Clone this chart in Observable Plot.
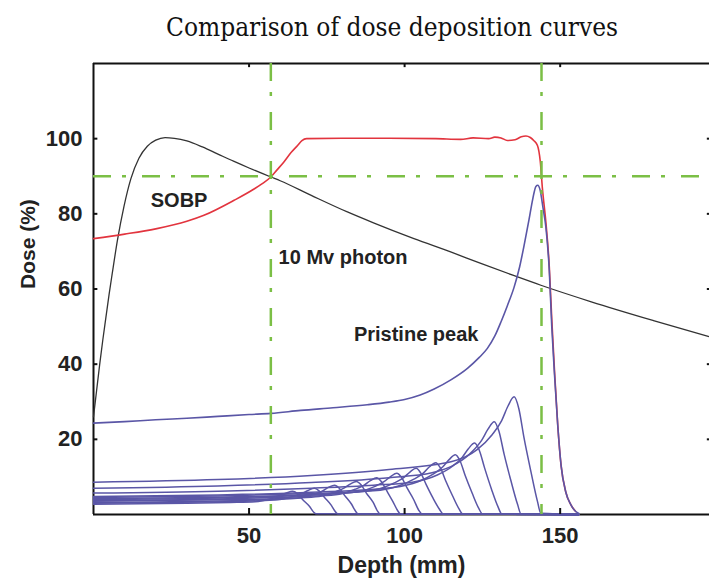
<!DOCTYPE html>
<html>
<head>
<meta charset="utf-8">
<script src="https://cdn.jsdelivr.net/npm/d3@7"></script>
<script src="https://cdn.jsdelivr.net/npm/@observablehq/plot@0.6"></script>
<style>
  html, body { margin: 0; padding: 0; background: #fff; }
  #title { height: 50px; line-height: 54px; padding-left: 75px; text-align: center;
    font-family: "DejaVu Serif Condensed", "DejaVu Serif", serif; font-stretch: condensed;
    font-size: 26px; color: #111; white-space: nowrap; overflow: visible; }
  #chart svg { display: block; }
</style>
</head>
<body>
<div id="title">Comparison of dose deposition curves</div>
<div id="chart"></div>
<script>
// ---- Data ----
const depthTicks = [50, 100, 150];
const doseTicks = [20, 40, 60, 80, 100];
const refDepths = [57, 144];     // green dash-dot verticals (mm)
const refDoses = [90];           // green dash-dot horizontal (%)

// 10 MV photon depth-dose curve [depth mm, dose %]
const photon = [[0,26],[1,33],[2,40],[3,46.5],[4,52.5],[5,58.5],[6,64],[7.7,73],[9.8,82],[12,89.3],[14.6,94.8],[17.3,98],[20,99.6],[23,100.3],[26,100.1],[30,99.4],[35,97.8],[40,95.9],[45,94],[50,92.2],[57,89.8],[60,88.8],[70,84.9],[81.6,80.5],[90,77.6],[103,73.4],[115,69.8],[124.5,66.8],[135,63.6],[143.8,61],[160,56.6],[180,51.6],[198,47.3]];

// Spread-out Bragg peak
const sobp = [[0,73.4],[10,74.6],[20,76],[30,78],[35.5,79.6],[45.2,83.6],[51.6,86.6],[54,87.9],[57,89.8],[59,91.7],[61.2,93.8],[63.5,96.3],[65.6,98.2],[67,99.5],[68.5,100],[80,100.1],[95,100.1],[110,100],[118,99.8],[122,100.2],[127,100],[129,100.4],[131,100.2],[133,99.5],[135.5,99.7],[137.5,100.5],[139,100.7],[140.4,100.3],[141.5,99.5],[142.7,98.2],[143.6,94],[144.3,86.7],[145.4,77.8],[146.5,66],[147.3,52],[148.2,38],[149.2,24],[150.3,13],[151.8,6],[153.5,2.5],[155,0.8]];

// Pristine Bragg peak
const pristine = [[0,24.3],[10,24.7],[20,25.2],[30,25.6],[40,26.1],[50,26.6],[57,26.9],[66.6,27.7],[77,28.4],[88,29.2],[95,29.9],[100,30.6],[105,31.8],[109.5,33.4],[115,35.9],[120.2,38.9],[124,41.8],[126.6,44.2],[129,47.5],[131,51.3],[133,55.5],[135.2,60.5],[137,66],[138.5,72],[140,78.5],[141.2,84],[142.2,87.3],[142.8,87.6],[143.5,86.5],[144.5,81.5],[145.4,76.5],[146.5,65],[147.3,50],[148.2,37],[149.2,24],[150.3,13],[151.8,6],[153.5,2.5],[155,0.8],[156,0.3]];

// Weighted (modulated) Bragg peaks that build the SOBP
const weighted1 = [[0,8.6],[40,9.3],[70,10.4],[95,12],[115.2,14.1],[123.2,17.2],[128.2,21.3],[131.2,25],[133.2,28.8],[135.2,31.3],[136.7,28.2],[138.4,20.3],[140.6,11.4],[142.7,3.5],[143.8,0.3],[156,0]];
const weighted2 = [[0,7],[40,7.6],[70,8.5],[95,9.8],[108.8,11.1],[116.8,13.6],[121.8,16.8],[124.8,19.8],[126.8,22.7],[128.8,24.7],[130.3,22.2],[132,16],[134.2,8.9],[136.3,2.7],[137.4,0.2],[156,0]];
const weighted3 = [[0,5.7],[40,6.2],[70,7],[90,7.8],[102.5,8.6],[110.5,10.5],[115.5,12.9],[118.5,15.2],[120.5,17.5],[122.5,19],[124,17.1],[125.7,12.4],[127.9,6.8],[130,2.1],[131.2,0.2],[156,0]];
const weighted4 = [[0,4.8],[40,5.2],[70,5.9],[96.3,7.2],[104.3,8.7],[109.3,10.8],[112.3,12.7],[114.3,14.6],[116.3,15.9],[117.8,14.3],[119.5,10.3],[121.7,5.7],[123.8,1.7],[125,0.2],[156,0]];
const weighted5 = [[0,4.5],[40,4.9],[70,5.6],[90,6.3],[98,7.6],[103,9.4],[106,11],[108,12.7],[110,13.8],[111.5,12.4],[113.2,9],[115.4,5],[117.5,1.5],[118.6,0.2],[156,0]];
const weighted6 = [[0,4.2],[40,4.6],[70,5.3],[83.7,5.9],[91.7,6.8],[96.7,8.4],[99.7,9.8],[101.7,11.3],[103.7,12.3],[105.2,11],[106.9,8],[109.1,4.4],[111.2,1.4],[112.3,0.2],[156,0]];
const weighted7 = [[0,4],[40,4.4],[65,5],[77.5,5.5],[85.5,6.1],[90.5,7.5],[93.5,8.8],[95.5,10.1],[97.5,11],[99,9.9],[100.7,7.2],[102.9,4],[104.5,1.2],[105.5,0.2],[156,0]];
const weighted8 = [[0,3.7],[40,4.1],[60,4.6],[71,4.9],[79,5.4],[84,6.7],[87,7.8],[89,9],[91,9.8],[92.5,8.8],[94.2,6.4],[96.2,3.5],[97.8,1],[98.6,0.2],[156,0]];
const weighted9 = [[0,3.5],[40,3.9],[64.5,4.4],[72.5,4.8],[77.5,6],[80.5,7],[82.5,8.1],[84.5,8.8],[86,7.9],[87.7,5.7],[89.9,3.2],[91.3,0.9],[92,0.2],[156,0]];
const weighted10 = [[0,3.2],[35,3.5],[57.5,4],[65.5,4.3],[70.5,5.3],[73.5,6.2],[75.5,7.2],[77.5,7.8],[79,7],[80.7,5.1],[82.9,2.8],[84.3,0.8],[85,0.2],[156,0]];
const weighted11 = [[0,3],[35,3.3],[51,3.6],[59,3.9],[64,4.8],[67,5.6],[69,6.4],[71,7],[72.5,6.3],[74.2,4.6],[76.4,2.5],[77.8,0.7],[78.5,0.2],[156,0]];
const weighted12 = [[0,2.7],[30,3],[44,3.2],[52,3.4],[57,4.2],[60,5],[62,5.7],[64,6.2],[65.5,5.6],[67.2,4],[69.4,2.2],[70.8,0.6],[71.5,0.2],[156,0]];

const annotations = [
  {text: "SOBP", depth: 18.4, dose: 83.4},
  {text: "10 Mv photon", depth: 59.5, dose: 68.3},
  {text: "Pristine peak", depth: 83.7, dose: 47.8}
];

// ---- Build tables ----
const toRows = (id, pts) => pts.map(([x, y]) => ({id, x, y}));
const weighted = [weighted1, weighted2, weighted3, weighted4, weighted5, weighted6,
  weighted7, weighted8, weighted9, weighted10, weighted11, weighted12]
  .flatMap((pts, i) => toRows("w" + i, pts));

const blue = "#5a56a6", red = "#e2343e", green = "#7bbf45", ink = "#222";
const dash = "18,11,4,16";

const chart = Plot.plot({
  width: 709, height: 528,
  marginLeft: 93, marginRight: 0, marginTop: 13, marginBottom: 64,
  style: {fontFamily: "'Liberation Sans', Arial, sans-serif", fontWeight: "bold", fontSize: "22px", color: ink, background: "#fff"},
  x: {domain: [0, 198]},
  y: {domain: [0, 120]},
  marks: [
    // frame (left, top, bottom)
    Plot.ruleX([0], {stroke: "#111", strokeWidth: 2}),
    Plot.ruleY([0, 120], {stroke: "#111", strokeWidth: 2}),
    Plot.axisX(depthTicks, {tickSize: 0, tickPadding: 13, label: null, fill: ink, fontSize: 22, fontWeight: "bold"}),
    Plot.axisY(doseTicks, {tickSize: 0, tickPadding: 11, label: null, fill: ink, fontSize: 22, fontWeight: "bold"}),
    // curves
    Plot.line(photon, {x: d => d[0], y: d => d[1], stroke: "#333", strokeWidth: 1.3, curve: "monotone-x"}),
    Plot.line(sobp, {x: d => d[0], y: d => d[1], stroke: red, strokeWidth: 1.6, curve: "monotone-x"}),
    Plot.line(weighted, {x: "x", y: "y", z: "id", stroke: blue, strokeWidth: 1.5, curve: "monotone-x"}),
    Plot.line(pristine, {x: d => d[0], y: d => d[1], stroke: blue, strokeWidth: 1.6, curve: "monotone-x"}),
    // reference dash-dot lines
    Plot.ruleX(refDepths, {stroke: green, strokeWidth: 2.5, strokeDasharray: dash}),
    Plot.ruleY(refDoses, {stroke: green, strokeWidth: 2.5, strokeDasharray: dash}),
    // inward tick marks
    Plot.ruleX(depthTicks, {y1: 0, y2: 1.6, stroke: "#111", strokeWidth: 2}),
    Plot.ruleX(depthTicks, {y1: 118.9, y2: 120, stroke: "#111", strokeWidth: 2}),
    Plot.ruleY(doseTicks, {x1: 0, x2: 1.4, stroke: "#111", strokeWidth: 2}),
    Plot.ruleY(doseTicks, {x1: 197.3, x2: 198, stroke: "#111", strokeWidth: 2}),
    // annotations
    Plot.text(annotations, {x: "depth", y: "dose", text: "text", textAnchor: "start", lineAnchor: "middle", fontSize: 20, fontWeight: "bold", fill: ink}),
    // axis titles
    Plot.text(["Depth (mm)"], {frameAnchor: "bottom", dy: 51, lineAnchor: "middle", fontSize: 23, fontWeight: "bold", fill: ink}),
    Plot.text(["Dose (%)"], {frameAnchor: "left", dx: -65, rotate: -90, lineAnchor: "middle", fontSize: 21, fontWeight: "bold", fill: ink})
  ]
});
document.getElementById("chart").append(chart);
</script>
</body>
</html>
